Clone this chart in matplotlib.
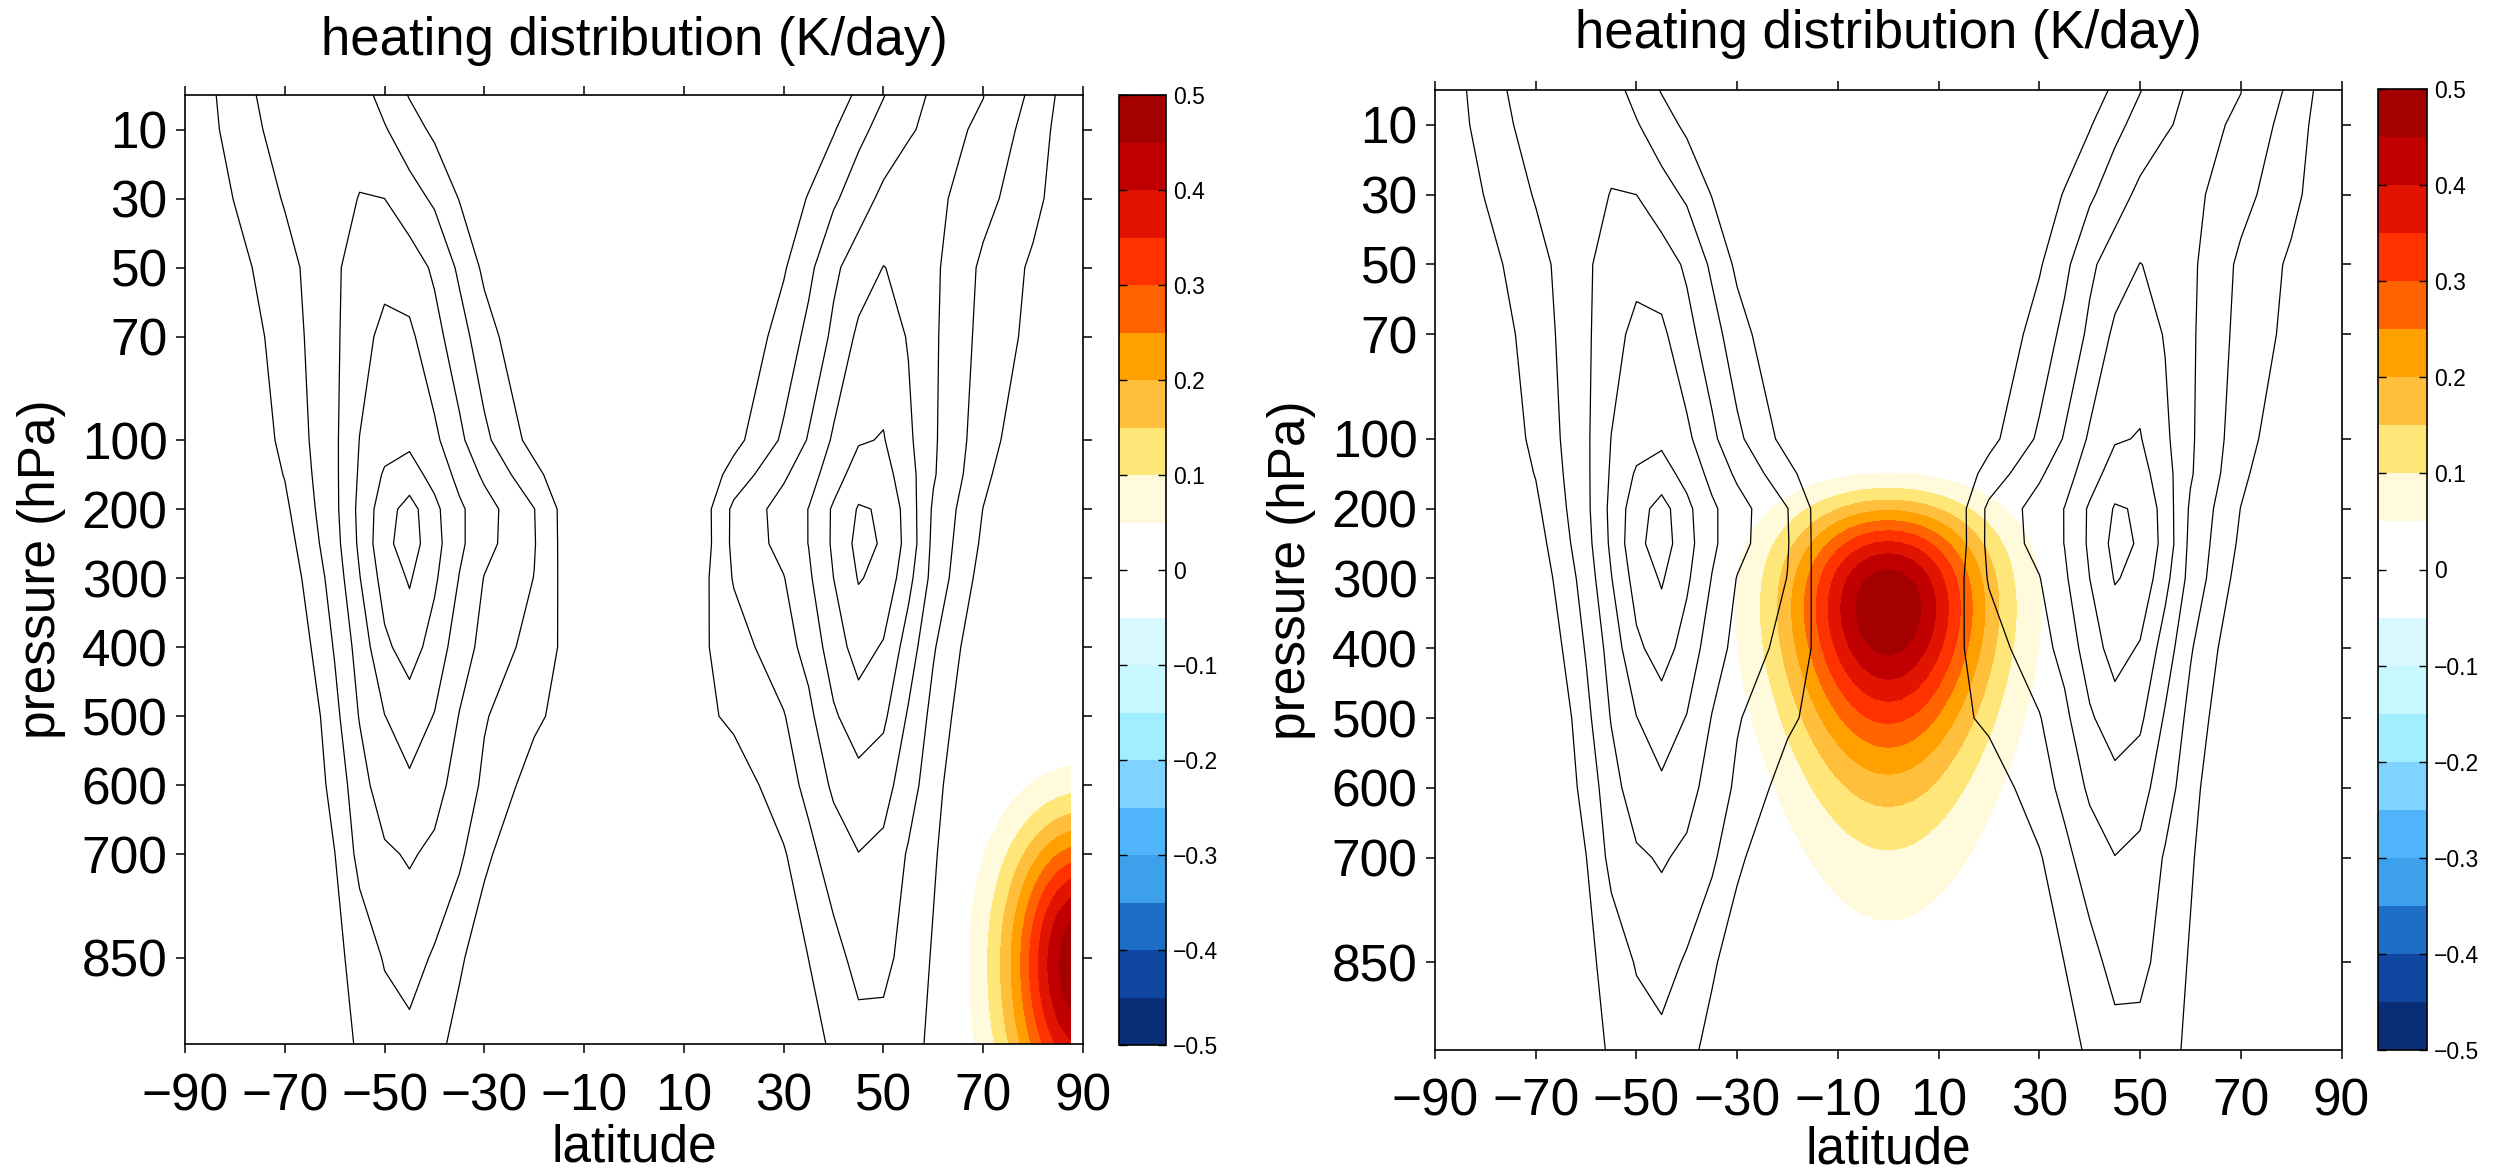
" Zonal-mean heating distribution with zonal wind contours, two experiments "

import numpy as np
import matplotlib
matplotlib.use("Agg")
import matplotlib.pyplot as plt
from matplotlib.cm import ScalarMappable
from matplotlib.colors import BoundaryNorm, ListedColormap

plt.rcParams["font.family"] = ["Liberation Sans", "DejaVu Sans"]

# zonal wind (m/s) on a coarse grid, rows from the model top down
lat_grid = [-90, -80, -70, -60, -55, -50, -45, -40, -35, -30, -20, -10, 0,
            10, 20, 30, 35, 40, 45, 50, 55, 60, 70, 80, 90]
p_grid = [0, 10, 30, 50, 70, 100, 150, 200, 250, 300, 400, 500, 600, 700, 850, 1000]
u_wind = [
    [1, 7.4, 13.5, 13, 12, 8.3, 4.7, 2, 0, -1, -2, -3, -3, -3, -2, -1, 0.5, 2.5, 5.9, 9.8, 13, 15.8, 15.1, 9, 0],
    [1, 6.8, 12.5, 14.5, 14, 10.4, 7.1, 4, 2, 0, -1, -2, -2, -2, -1, -1, 1, 4.6, 8.7, 11.7, 14.2, 16.8, 14.2, 7.7, 0],
    [0, 5.2, 10.4, 14, 15.1, 15.0, 12, 9.2, 4.8, 2, 0, -1, -1, -1, 0, 1.5, 5.4, 9.2, 12.7, 16.2, 19, 16.4, 11.7, 6.4, 0],
    [0, 3.3, 8.2, 14.1, 17.5, 18.3, 17.5, 14.2, 9.1, 4, 1, 0, 0, 0, 0, 4.5, 8.8, 14, 17.5, 20.1, 19, 16, 9, 4.2, 0],
    [0, 1.6, 7.3, 14.2, 18, 21.5, 21, 16.7, 12.1, 7.1, 0, -1, -1, -1, 0.5, 7.1, 11.3, 16, 21, 22.3, 19.7, 15.8, 8.4, 3.6, 0],
    [0, 0.5, 6.1, 14.1, 20.1, 23, 24, 21.1, 16.1, 11.1, 3.1, 0, -1, 0, 3.4, 10.8, 15.4, 20.7, 24.5, 25.3, 21, 15.7, 7.2, 1, 0],
    [0, 0, 5.2, 14, 20.6, 25.6, 27, 23.4, 18.5, 14.1, 6.5, -1.5, -2, -2, 7, 14.25, 18, 22.6, 27.5, 27, 22, 15.5, 6.3, -1, 0],
    [0, 0, 4, 13.8, 21.2, 27.8, 32, 26.25, 20.9, 17, 10.1, -1, -2, -2.4, 11.1, 17, 20.1, 25.7, 30.4, 29.6, 22.8, 14.3, 4.9, -1, 0],
    [0, 0, 2.7, 13.2, 20.9, 28.6, 32.5, 26.8, 21, 16.7, 10.3, -1, -2, -2.7, 11.2, 16.6, 20.1, 25.8, 31.5, 29.5, 23.25, 13.75, 4.1, -1, 0],
    [0, 0, 1.35, 12.1, 19.8, 27, 30.5, 25.8, 19.8, 14.8, 9.9, -0.5, -2, -0.5, 10.4, 14.8, 19.2, 25, 30.3, 28.8, 21.5, 13.3, 2.9, -1, 0],
    [0, -1, -1, 10.4, 17, 24, 27.2, 23, 17.4, 13.5, 8, 1.6, 0, 2.2, 7.7, 13.1, 16.6, 22.6, 27.0, 24.5, 17.7, 10.5, 0.5, -1, 0],
    [0, -2, -4, 8.6, 15.3, 19.9, 22.5, 19.8, 14.8, 10.4, 6, 1.6, 0, 2.4, 6.1, 9.7, 13.8, 19.3, 22.8, 21, 14.4, 8.5, -1, -1, 0],
    [0, -2, -4, 6.9, 12.9, 17.9, 19.2, 16.8, 13, 9.1, 2.7, 0, 0, 0, 2, 7.9, 11.3, 15.9, 18.2, 16.9, 12.2, 7, -3, -1, 0],
    [0, -2, -4, 4.9, 11.5, 14.2, 15.5, 14, 11, 5.9, 0.5, -1, -1, -1, -1, 4.5, 8.7, 12.3, 14.9, 13.8, 9.5, 5.6, -2, -1, 0],
    [0, -1, -3, 3.6, 7, 10.4, 12, 9.4, 5.7, 2.5, 0, -1, -1, -1, -1, 1.7, 5.05, 8.4, 11.5, 11.3, 8.2, 4.5, -2, -1, 0],
    [0, -1, -2, 3, 5.4, 7.2, 8, 6, 3, 1, 0, -1, -1, -1, 0, 0.5, 2.5, 5.5, 7.8, 7.9, 6.5, 3.9, -1, -1, 0],
]
wind_levels = [5, 10, 15, 20, 25, 30]

# imposed heating (K/day): polar lower troposphere (left), tropical upper troposphere (right)
heat_lat = np.arange(-87.5, 87.6, 2.5)
heat_p = np.arange(5.0, 1001.0, 5.0)
heat_center_lat = [90.0, 0.0]
heat_center_p = [860.0, 343.0]
heat_width_lat = [15.0, 20.0]
heat_width_lnp = [0.27, 0.55]
heat_peak = [0.5, 0.5]

heat_levels = np.round(np.arange(-0.5, 0.501, 0.05), 2)
heat_colors = [
    "#0a2d78", "#0f46a0", "#1e6ec8", "#3ca0eb", "#50b4fa",
    "#80d2ff", "#a0eeff", "#c8f8ff", "#d7f8ff", "#ffffff",
    "#ffffff", "#fffadc", "#ffe678", "#ffbe3c", "#ffa000",
    "#ff6400", "#ff3200", "#e01400", "#c00000", "#a50000",
]
cbar_ticks = [-0.5, -0.4, -0.3, -0.2, -0.1, 0.0, 0.1, 0.2, 0.3, 0.4, 0.5]
cbar_labels = ["\u22120.5", "\u22120.4", "\u22120.3", "\u22120.2", "\u22120.1", "0",
               "0.1", "0.2", "0.3", "0.4", "0.5"]
lat_ticks = [-90, -70, -50, -30, -10, 10, 30, 50, 70, 90]
p_ticks = [10, 30, 50, 70, 100, 200, 300, 400, 500, 600, 700, 850]

# figure layout in pixels
W, H = 2508, 1170
axes_px = [(185, 95, 1083, 1044), (1435, 90, 2341.5, 1049.5)]
cbar_px = [(1119, 95, 1166, 1045), (2378, 89, 2427, 1050)]
title_y_px = [41, 34]
xlabel_y_px = [1161, 1163]
ylabel_x_px = [42, 1292]


def p_forward(p):
    # pressure axis: stretched above 100 hPa, linear below
    p = np.asarray(p, dtype=float)
    return np.where(p <= 100, 5.0 * p, p + 400.0)


def p_inverse(y):
    y = np.asarray(y, dtype=float)
    return np.where(y <= 500, y / 5.0, y - 400.0)


def heating_field(i):
    lat2, p2 = np.meshgrid(heat_lat, heat_p)
    return heat_peak[i] * np.exp(
        -((lat2 - heat_center_lat[i]) / heat_width_lat[i]) ** 2
        - (np.log(p2 / heat_center_p[i]) / heat_width_lnp[i]) ** 2
    )


def rect(box):
    x0, y0, x1, y1 = box
    return [x0 / W, 1 - y1 / H, (x1 - x0) / W, (y1 - y0) / H]


fig = plt.figure(figsize=(W / 100, H / 100), dpi=100)
cmap = ListedColormap(heat_colors)

for i in range(2):
    # each panel gets its own norm so the two colorbars stay independent
    norm = BoundaryNorm(heat_levels, cmap.N)
    ax = fig.add_axes(rect(axes_px[i]))
    ax.set_yscale("function", functions=(p_forward, p_inverse))
    ax.contourf(heat_lat, heat_p, heating_field(i), levels=heat_levels,
                cmap=cmap, norm=norm)
    ax.contour(lat_grid, p_grid, np.array(u_wind), levels=wind_levels,
               colors="black", linewidths=0.9)
    ax.set_xlim(-90, 90)
    ax.set_ylim(975, 0)
    ax.set_xticks(lat_ticks)
    ax.set_xticklabels([str(v).replace("-", "\u2212") for v in lat_ticks])
    ax.set_yticks(p_ticks)
    ax.set_yticklabels([str(v) for v in p_ticks])
    ax.minorticks_off()
    ax.tick_params(direction="out", length=6.5, width=1.1, top=True, right=True,
                   labelsize=37)
    ax.tick_params(axis="x", pad=14)
    ax.tick_params(axis="y", pad=6)
    for spine in ax.spines.values():
        spine.set_linewidth(1.2)

    x0, _, x1, _ = axes_px[i]
    xc = 0.5 * (x0 + x1) / W
    fig.text(xc, 1 - title_y_px[i] / H, "heating distribution (K/day)",
             ha="center", va="center", fontsize=38)
    fig.text(xc, 1 - xlabel_y_px[i] / H, "latitude", ha="center",
             va="baseline", fontsize=37)
    _, y0, _, y1 = axes_px[i]
    fig.text(ylabel_x_px[i] / W, 1 - 0.5 * (y0 + y1) / H, "pressure (hPa)",
             ha="center", va="center", rotation=90, fontsize=37)

    cax = fig.add_axes(rect(cbar_px[i]))
    cb = fig.colorbar(ScalarMappable(norm=norm, cmap=cmap), cax=cax,
                      spacing="proportional")
    cb.set_ticks(cbar_ticks, labels=cbar_labels)
    cb.outline.set_linewidth(1.2)
    cax.tick_params(direction="in", length=6, width=1.0, left=True, right=True,
                    labelleft=False, labelright=True, labelsize=16.5, pad=5)
    cax.minorticks_off()

fig.savefig("out.png", dpi=100)
